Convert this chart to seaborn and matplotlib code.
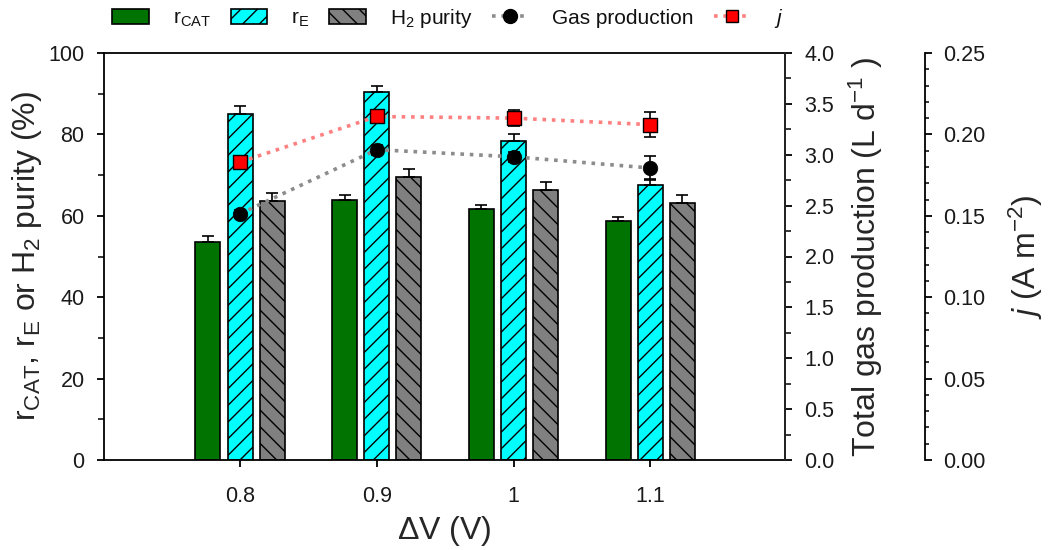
import matplotlib
matplotlib.use("Agg")
import matplotlib.pyplot as plt
import numpy as np
import pandas as pd
import seaborn as sns
from matplotlib.patches import Patch
from matplotlib.lines import Line2D
from matplotlib.ticker import MultipleLocator, FormatStrFormatter

# Applied voltage levels
voltages = ["0.8", "0.9", "1", "1.1"]

# Bar series (%)
r_cat = [53.5, 63.8, 61.7, 58.8]
r_cat_err = [1.5, 1.4, 1.0, 0.9]
r_e = [85.0, 90.3, 78.5, 67.6]
r_e_err = [2.0, 1.5, 1.5, 1.5]
h2_purity = [63.7, 69.6, 66.3, 63.2]
h2_purity_err = [1.9, 1.9, 2.0, 1.8]

# Point series on the secondary axes
gas_production = [2.42, 3.05, 2.98, 2.87]          # L d-1
gas_production_err = [0.04, 0.05, 0.05, 0.12]
current_density = [0.183, 0.211, 0.210, 0.206]    # A m-2
current_density_err = [0.002, 0.003, 0.005, 0.0075]

series_names = ["r_CAT", "r_E", "H2 purity"]
bar_colors = ["#007300", "#00ffff", "#808080"]
bar_hatches = ["", "//", "\\\\"]

sns.set_theme(style="ticks")
plt.rcParams.update({
    "font.family": ["Liberation Sans", "DejaVu Sans"],
    "mathtext.fontset": "custom",
    "mathtext.rm": "Liberation Sans",
    "mathtext.it": "Liberation Sans:italic",
    "mathtext.default": "regular",
    "hatch.color": "black",
    "hatch.linewidth": 1.0,
    "axes.linewidth": 1.3,
    "xtick.major.width": 1.3,
    "ytick.major.width": 1.3,
    "ytick.minor.width": 1.1,
    "text.color": "#111111",
    "xtick.color": "black",
    "ytick.color": "black",
    "xtick.labelcolor": "#1a1a1a",
    "ytick.labelcolor": "#1a1a1a",
})

fig = plt.figure(figsize=(10.48, 5.5), dpi=100)
ax = fig.add_axes([104 / 1048, 1 - 460 / 550, 681 / 1048, 407 / 550])

df = pd.DataFrame({
    "dV": voltages * 3,
    "series": [series_names[0]] * 4 + [series_names[1]] * 4 + [series_names[2]] * 4,
    "value": r_cat + r_e + h2_purity,
})

sns.barplot(data=df, x="dV", y="value", hue="series", order=voltages,
            hue_order=series_names, palette=bar_colors, saturation=1,
            width=0.705, gap=0.22, edgecolor="black", linewidth=1.2,
            errorbar=None, legend=False, ax=ax)

errs = [r_cat_err, r_e_err, h2_purity_err]
vals = [r_cat, r_e, h2_purity]
for cont, hatch, err, v in zip(ax.containers, bar_hatches, errs, vals):
    xs = []
    for p in cont.patches:
        p.set_hatch(hatch)
        xs.append(p.get_x() + p.get_width() / 2)
    ax.errorbar(xs, v, yerr=[np.zeros(len(err)), err], fmt="none",
                ecolor="black", elinewidth=1.2, capsize=4, capthick=1.2, zorder=3)

xpos = np.arange(len(voltages))

# Total gas production
ax2 = ax.twinx()
sns.lineplot(x=xpos, y=gas_production, ax=ax2, color="#8c8c8c", linewidth=2.6,
             linestyle=(0, (1, 1.6)), zorder=2)
ax2.errorbar(xpos, gas_production, yerr=gas_production_err, fmt="none",
             ecolor="black", elinewidth=1.2, capsize=4, capthick=1.2, zorder=3)
sns.scatterplot(x=xpos, y=gas_production, ax=ax2, marker="o", s=110,
                color="black", edgecolor="black", linewidth=0.5, zorder=4)

# Current density
ax3 = ax.twinx()
sns.lineplot(x=xpos, y=current_density, ax=ax3, color="#ff8080", linewidth=2.6,
             linestyle=(0, (1, 1.6)), zorder=2)
ax3.errorbar(xpos, current_density, yerr=current_density_err, fmt="none",
             ecolor="black", elinewidth=1.2, capsize=4, capthick=1.2, zorder=3)
sns.scatterplot(x=xpos, y=current_density, ax=ax3, marker="s", s=95,
                color="red", edgecolor="black", linewidth=1.0, zorder=4)

# Primary axis
ax.set_ylim(0, 100)
ax.yaxis.set_major_locator(MultipleLocator(20))
ax.yaxis.set_minor_locator(MultipleLocator(10))
ax.tick_params(axis="y", which="both", direction="out", left=True, right=False,
               labelsize=15.5, pad=9)
ax.tick_params(axis="y", which="major", length=5)
ax.tick_params(axis="y", which="minor", length=4)
ax.tick_params(axis="x", which="both", direction="out", bottom=True, top=False,
               length=5, labelsize=15.5, pad=14)
ax.set_xticks(xpos)
ax.set_xticklabels(voltages)
ax.set_xlabel(r"$\Delta$V (V)", fontsize=23, labelpad=5)
ax.set_ylabel("r$_{CAT}$, r$_E$ or H$_2$ purity (%)", fontsize=23, labelpad=3)
for s in ["top", "right", "left", "bottom"]:
    ax.spines[s].set_visible(True)
    ax.spines[s].set_color("black")

# Gas production axis
ax2.set_ylim(0, 4)
ax2.yaxis.set_major_locator(MultipleLocator(0.5))
ax2.yaxis.set_minor_locator(MultipleLocator(0.25))
ax2.yaxis.set_major_formatter(FormatStrFormatter("%.1f"))
ax2.tick_params(axis="y", which="both", direction="out", right=True, left=False,
                labelsize=15.5, pad=9)
ax2.tick_params(axis="y", which="major", length=5)
ax2.tick_params(axis="y", which="minor", length=4)
ax2.set_ylabel("Total gas production (L d$^{-1}$ )", fontsize=23, labelpad=9)
for s in ["top", "left", "bottom"]:
    ax2.spines[s].set_visible(False)

# Current density axis
ax3.set_ylim(0, 0.25)
ax3.spines["right"].set_position(("axes", 1.2056))
ax3.yaxis.set_major_locator(MultipleLocator(0.05))
ax3.yaxis.set_minor_locator(MultipleLocator(0.01))
ax3.yaxis.set_major_formatter(FormatStrFormatter("%.2f"))
ax3.tick_params(axis="y", which="both", direction="out", right=True, left=False,
                labelsize=15.5, pad=8)
ax3.tick_params(axis="y", which="major", length=5)
ax3.tick_params(axis="y", which="minor", length=3)
ax3.set_ylabel(r"$\mathit{j}$ (A m$^{-2}$)", fontsize=23, labelpad=15)
for s in ["top", "left", "bottom"]:
    ax3.spines[s].set_visible(False)
ax3.spines["right"].set_visible(True)
ax3.spines["right"].set_color("black")

ax.set_xlim(-0.995, 3.985)

handles = [
    Patch(facecolor=bar_colors[0], edgecolor="black", linewidth=1.2),
    Patch(facecolor=bar_colors[1], edgecolor="black", linewidth=1.2, hatch="//"),
    Patch(facecolor=bar_colors[2], edgecolor="black", linewidth=1.2, hatch="\\\\"),
    Line2D([], [], color="#8c8c8c", linewidth=2.6, linestyle=(0, (1, 1.6)),
           marker="o", markersize=10, markerfacecolor="black", markeredgecolor="black"),
    Line2D([], [], color="#ff8080", linewidth=2.6, linestyle=(0, (1, 1.6)),
           marker="s", markersize=9, markerfacecolor="red", markeredgecolor="black"),
]
labels = ["r$_{CAT}$", "r$_E$", "H$_2$ purity", "Gas production", r"$\mathit{j}$"]
fig.legend(handles, labels, loc="center", bbox_to_anchor=(448 / 1048, 1 - 18 / 550),
           ncol=5, frameon=False, fontsize=15, handlelength=1.75,
           handleheight=0.7, handletextpad=1.15, columnspacing=0.95)

fig.savefig("out.png", dpi=100)
